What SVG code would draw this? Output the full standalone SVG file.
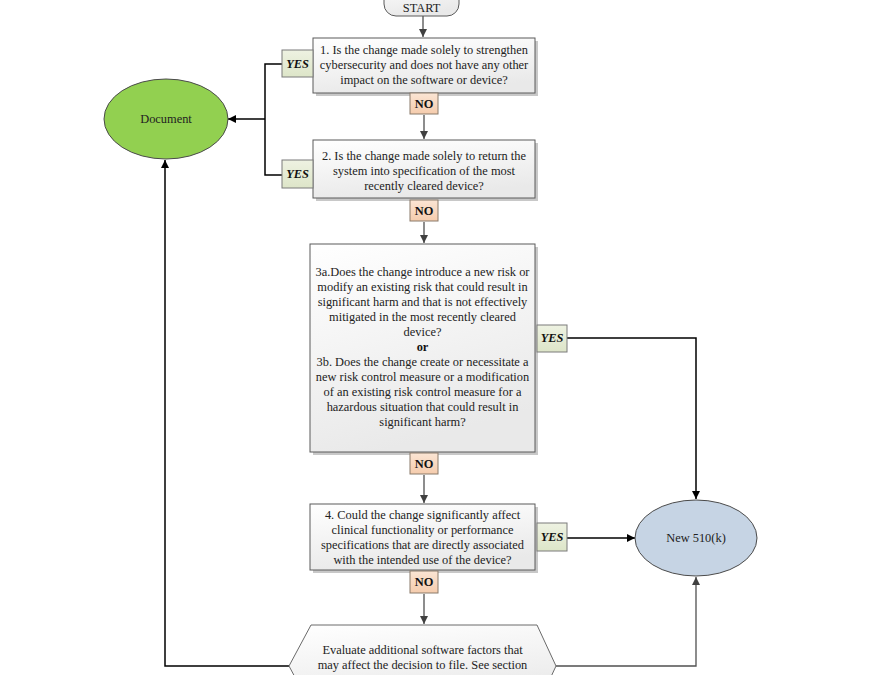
<svg xmlns="http://www.w3.org/2000/svg" width="871" height="675" viewBox="0 0 871 675">
<defs>
<linearGradient id="gBox" x1="0" y1="0" x2="0.3" y2="1"><stop offset="0" stop-color="#ffffff"/><stop offset="1" stop-color="#e9e9e9"/></linearGradient>
<linearGradient id="gYes" x1="0" y1="0" x2="0" y2="1"><stop offset="0" stop-color="#eef2e2"/><stop offset="1" stop-color="#dde5c8"/></linearGradient>
<linearGradient id="gNo" x1="0" y1="0" x2="0" y2="1"><stop offset="0" stop-color="#fbe5d4"/><stop offset="1" stop-color="#f5ccad"/></linearGradient>
<marker id="ah" viewBox="0 0 10 10" refX="10" refY="5" markerWidth="8" markerHeight="8" markerUnits="userSpaceOnUse" orient="auto"><path d="M0,0 L10,5 L0,10 z" fill="#000"/></marker>
<marker id="ahg" viewBox="0 0 10 10" refX="10" refY="5" markerWidth="8" markerHeight="8" markerUnits="userSpaceOnUse" orient="auto"><path d="M0,0 L10,5 L0,10 z" fill="#404040"/></marker>
</defs>
<style>
.box{fill:url(#gBox);stroke:#5a5a5a;stroke-width:1}
.sh{fill:#c8c8c8}
.yes{fill:url(#gYes);stroke:#7a7a7a;stroke-width:1}
.no{fill:url(#gNo);stroke:#8a7a6a;stroke-width:1}
.t{font-family:"Liberation Serif","Times New Roman",serif;font-size:12.4px;fill:#222;text-anchor:middle}
.lb{font-family:"Liberation Serif","Times New Roman",serif;font-size:12.4px;font-weight:bold;fill:#111;text-anchor:middle}
.yt{font-style:italic}
.c{fill:none;stroke:#000;stroke-width:1.5}
.cg{fill:none;stroke:#505050;stroke-width:1.3}
</style>

<g id="connectors">
<path class="cg" d="M423,16 L423,37" marker-end="url(#ahg)"/>
<path class="cg" d="M424,115 L424,139" marker-end="url(#ahg)"/>
<path class="cg" d="M424,222 L424,243" marker-end="url(#ahg)"/>
<path class="cg" d="M424,475 L424,503" marker-end="url(#ahg)"/>
<path class="cg" d="M424,594 L424,624" marker-end="url(#ahg)"/>
<path class="c" d="M283,64 L265,64 L265,175 L283,175"/>
<path class="c" d="M265,119 L228,119" marker-end="url(#ah)"/>
<path class="c" d="M567,338 L696,338 L696,499" marker-end="url(#ah)"/>
<path class="c" d="M567,538 L635,538" marker-end="url(#ah)"/>
<path class="c" d="M289,666 L165,666 L165,160" marker-end="url(#ah)"/>
<path class="cg" d="M556,666 L696,666 L696,577" marker-end="url(#ahg)"/>
</g>

<g id="start">
<rect x="384" y="-20" width="75" height="36" rx="12" fill="url(#gBox)" stroke="#5a5a5a"/>
<text class="t" x="421.5" y="12">START</text>
</g>

<g id="document">
<ellipse cx="166" cy="119" rx="62" ry="40" fill="#92d050" stroke="#4a4a4a"/>
<text class="t" x="166" y="123">Document</text>
</g>

<g id="new510k">
<ellipse cx="696" cy="538" rx="61" ry="38" fill="#c6d4e4" stroke="#4a4a4a"/>
<text class="t" x="696" y="542">New 510(k)</text>
</g>

<g id="q1">
<rect class="sh" x="316" y="41" width="222" height="55"/>
<rect class="box" x="313" y="38" width="222" height="55"/>
<text class="t" x="424" y="54">1. Is the change made solely to strengthen</text>
<text class="t" x="424" y="69">cybersecurity and does not have any other</text>
<text class="t" x="424" y="84">impact on the software or device?</text>
</g>
<g id="yes1"><rect class="yes" x="282" y="50" width="31" height="27"/><text class="lb yt" x="297.5" y="68">YES</text></g>
<g id="no1"><rect class="no" x="410" y="93" width="28" height="21"/><text class="lb" x="424" y="108">NO</text></g>

<g id="q2">
<rect class="sh" x="316" y="143" width="222" height="58"/>
<rect class="box" x="313" y="140" width="222" height="58"/>
<text class="t" x="424" y="160">2. Is the change made solely to return the</text>
<text class="t" x="424" y="175">system into specification of the most</text>
<text class="t" x="424" y="190">recently cleared device?</text>
</g>
<g id="yes2"><rect class="yes" x="282" y="160" width="31" height="28"/><text class="lb yt" x="297.5" y="178">YES</text></g>
<g id="no2"><rect class="no" x="410" y="200" width="28" height="21"/><text class="lb" x="424" y="215">NO</text></g>

<g id="q3">
<rect class="sh" x="313" y="247" width="225" height="208"/>
<rect class="box" x="310" y="244" width="225" height="208"/>
<text class="t" x="422.5" y="276">3a.Does the change introduce a new risk or</text>
<text class="t" x="422.5" y="291">modify an existing risk that could result in</text>
<text class="t" x="422.5" y="306">significant harm and that is not effectively</text>
<text class="t" x="422.5" y="321">mitigated in the most recently cleared</text>
<text class="t" x="422.5" y="336">device?</text>
<text class="lb" x="422.5" y="351">or</text>
<text class="t" x="422.5" y="366">3b. Does the change create or necessitate a</text>
<text class="t" x="422.5" y="381">new risk control measure or a modification</text>
<text class="t" x="422.5" y="396">of an existing risk control measure for a</text>
<text class="t" x="422.5" y="411">hazardous situation that could result in</text>
<text class="t" x="422.5" y="426">significant harm?</text>
</g>
<g id="yes3"><rect class="yes" x="537" y="325" width="30" height="27"/><text class="lb yt" x="552" y="342">YES</text></g>
<g id="no3"><rect class="no" x="410" y="453" width="28" height="21"/><text class="lb" x="424" y="468">NO</text></g>

<g id="q4">
<rect class="sh" x="313" y="507" width="225" height="66"/>
<rect class="box" x="310" y="504" width="225" height="66"/>
<text class="t" x="422.5" y="519">4. Could the change significantly affect</text>
<text class="t" x="422.5" y="534">clinical functionality or performance</text>
<text class="t" x="422.5" y="549">specifications that are directly associated</text>
<text class="t" x="422.5" y="564">with the intended use of the device?</text>
</g>
<g id="yes4"><rect class="yes" x="537" y="523" width="30" height="28"/><text class="lb yt" x="552" y="541">YES</text></g>
<g id="no4"><rect class="no" x="410" y="571" width="28" height="22"/><text class="lb" x="424" y="586">NO</text></g>

<g id="evaluate">
<polygon points="311,625 537,625 556,666 537,707 311,707 289,666" fill="url(#gBox)" stroke="#6a6a6a"/>
<text class="t" x="422.5" y="654">Evaluate additional software factors that</text>
<text class="t" x="422.5" y="669">may affect the decision to file. See section</text>
</g>
</svg>
